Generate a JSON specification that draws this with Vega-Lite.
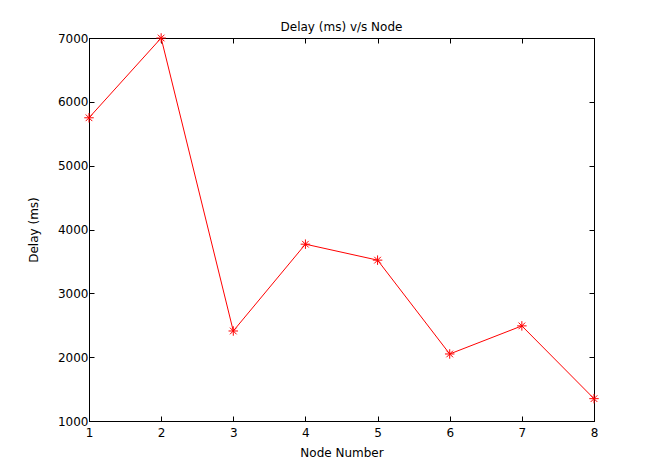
{
  "$schema": "https://vega.github.io/schema/vega-lite/v6.json",
  "width": 505,
  "height": 383,
  "autosize": {"type": "none"},
  "padding": {"left": 89, "top": 38, "right": 55, "bottom": 47},
  "background": "white",
  "title": {"text": "Delay (ms) v/s Node", "fontSize": 12, "fontWeight": "normal", "font": "DejaVu Sans", "color": "black", "offset": -3},
  "data": {"values": [
    {"node": 1, "delay": 5750},
    {"node": 2, "delay": 7000},
    {"node": 3, "delay": 2410},
    {"node": 4, "delay": 3770},
    {"node": 5, "delay": 3520},
    {"node": 6, "delay": 2050},
    {"node": 7, "delay": 2490},
    {"node": 8, "delay": 1350}
  ]},
  "config": {
    "view": {"stroke": "black", "strokeWidth": 1},
    "axis": {"grid": false, "domainColor": "black", "tickColor": "black", "labelColor": "black", "titleColor": "black", "labelFont": "DejaVu Sans", "titleFont": "DejaVu Sans", "labelFontSize": 12, "titleFontSize": 12, "titleFontWeight": "normal", "tickSize": -5, "labelPadding": 6}
  },
  "layer": [
    {
      "mark": {"type": "line", "color": "#ff0000", "strokeWidth": 1},
      "encoding": {
        "x": {"field": "node", "type": "quantitative", "scale": {"domain": [1, 8], "nice": false, "zero": false}, "axis": {"values": [1,2,3,4,5,6,7,8], "format": "d", "title": "Node Number", "labelPadding": 11, "titlePadding": 9, "labelFlush": false}},
        "y": {"field": "delay", "type": "quantitative", "scale": {"domain": [1000, 7000], "nice": false, "zero": false}, "axis": {"values": [1000,2000,3000,4000,5000,6000,7000], "format": "d", "title": "Delay (ms)", "titlePadding": 17, "labelFlush": false}}
      }
    },
    {
      "mark": {"type": "point", "shape": "M-1,0L1,0M0,-1L0,1M-0.7,-0.7L0.7,0.7M-0.7,0.7L0.7,-0.7", "color": "#ff0000", "filled": false, "strokeWidth": 1, "size": 90, "opacity": 1},
      "encoding": {
        "x": {"field": "node", "type": "quantitative", "axis": {"orient": "top", "values": [1,2,3,4,5,6,7,8], "labels": false, "title": null}},
        "y": {"field": "delay", "type": "quantitative", "axis": {"orient": "right", "values": [1000,2000,3000,4000,5000,6000,7000], "labels": false, "title": null}}
      }
    }
  ],
  "resolve": {"axis": {"x": "independent", "y": "independent"}}
}
